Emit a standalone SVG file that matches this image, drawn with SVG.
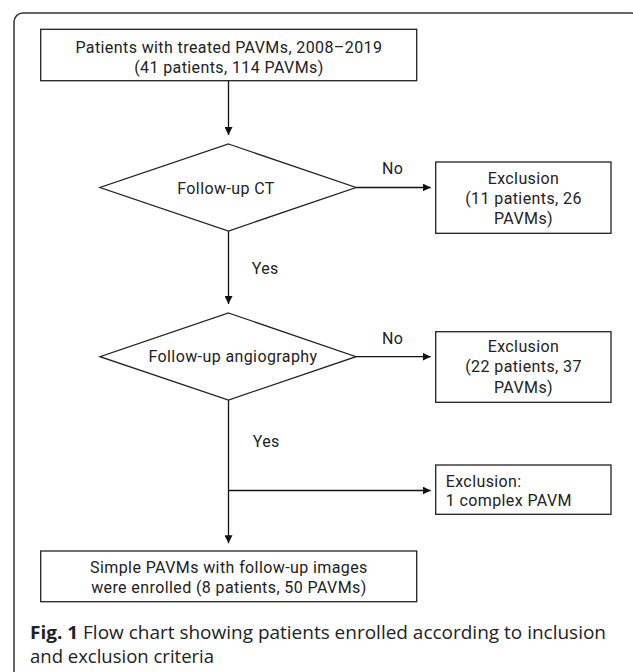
<svg xmlns="http://www.w3.org/2000/svg" width="633" height="672" viewBox="0 0 633 672">
<defs>
<style>
.frame{fill:none;stroke:#333;stroke-width:1.5}
.box{fill:#fff;stroke:#222;stroke-width:1.3}
.line{fill:none;stroke:#111;stroke-width:1.3}
.t{font-family:Roboto,"Noto Sans","DejaVu Sans",sans-serif;font-size:16px;letter-spacing:0.4px;fill:#222}
.c{text-anchor:middle}
.cap{font-family:"Open Sans","Noto Sans",sans-serif;font-size:18.5px;fill:#222}
</style>
<marker id="ah" viewBox="0 0 10 10" refX="10" refY="5" markerWidth="8" markerHeight="8" markerUnits="userSpaceOnUse" orient="auto">
<path d="M0,0 L10,5 L0,10 z" fill="#111"/>
</marker>
</defs>
<rect width="633" height="672" fill="#fff"/>
<rect class="frame" x="14" y="13" width="626" height="672" rx="9"/>

<g id="connectors">
<line class="line" x1="228.5" y1="80.7" x2="228.5" y2="135" marker-end="url(#ah)"/>
<line class="line" x1="356" y1="187.5" x2="430.7" y2="187.5" marker-end="url(#ah)"/>
<line class="line" x1="228.5" y1="231" x2="228.5" y2="304" marker-end="url(#ah)"/>
<line class="line" x1="356" y1="356.7" x2="430.7" y2="356.7" marker-end="url(#ah)"/>
<line class="line" x1="228.5" y1="400" x2="228.5" y2="543.3" marker-end="url(#ah)"/>
<line class="line" x1="228.5" y1="490.5" x2="430.7" y2="490.5" marker-end="url(#ah)"/>
<text class="t" x="382" y="174">No</text>
<text class="t" x="251.7" y="274">Yes</text>
<text class="t" x="382" y="343.5">No</text>
<text class="t" x="252.7" y="446.7">Yes</text>
</g>

<g id="start">
<rect class="box" x="40.7" y="29.3" width="376" height="51.4"/>
<text class="t c" x="228.9" y="52.5">Patients with treated PAVMs, 2008–2019</text>
<text class="t c" x="228.9" y="72.7">(41 patients, 114 PAVMs)</text>
</g>

<g id="ct">
<polygon class="box" points="228.5,144 356,187.5 228.5,231 100,187.5"/>
<text class="t c" x="226" y="193.5">Follow-up CT</text>
</g>

<g id="excl1">
<rect class="box" x="435.7" y="162" width="175.3" height="71.3"/>
<text class="t c" x="523.5" y="184.3">Exclusion</text>
<text class="t c" x="523.5" y="204.3">(11 patients, 26</text>
<text class="t c" x="523.5" y="224">PAVMs)</text>
</g>

<g id="angio">
<polygon class="box" points="228.5,313 356,356.7 228.5,400 100,356.7"/>
<text class="t c" x="233" y="361.7">Follow-up angiography</text>
</g>

<g id="excl2">
<rect class="box" x="435.7" y="331.7" width="175.3" height="70.6"/>
<text class="t c" x="523.5" y="352.3">Exclusion</text>
<text class="t c" x="523.5" y="372.3">(22 patients, 37</text>
<text class="t c" x="523.5" y="392.7">PAVMs)</text>
</g>

<g id="excl3">
<rect class="box" x="435.7" y="465" width="175.3" height="49.3"/>
<text class="t" x="445.7" y="486.7">Exclusion:</text>
<text class="t" x="445.7" y="505.7">1 complex PAVM</text>
</g>

<g id="enrolled">
<rect class="box" x="40.7" y="551" width="376" height="50.7"/>
<text class="t c" x="228.9" y="573">Simple PAVMs with follow-up images</text>
<text class="t c" x="228.9" y="593">were enrolled (8 patients, 50 PAVMs)</text>
</g>

<g id="caption">
<text class="cap" x="30" y="639" textLength="576" lengthAdjust="spacingAndGlyphs"><tspan font-weight="bold">Fig. 1</tspan> Flow chart showing patients enrolled according to inclusion</text>
<text class="cap" x="30" y="663">and exclusion criteria</text>
</g>
</svg>
